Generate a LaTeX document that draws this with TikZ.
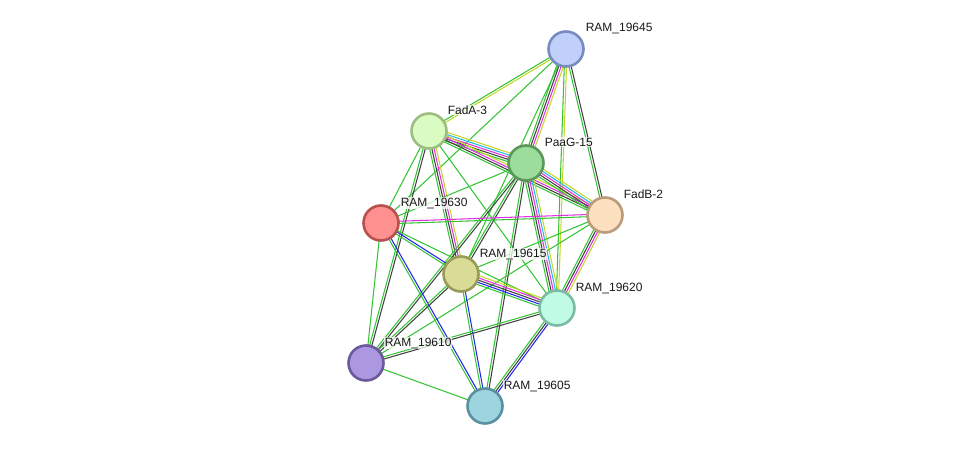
\documentclass[tikz,border=0pt]{standalone}
\usepackage{fontspec}
\setmainfont{Liberation Sans}
\usetikzlibrary{calc}
\pgfdeclarelayer{background}
\pgfsetlayers{background,main}
\definecolor{gn}{RGB}{52,196,52}
\definecolor{tm}{RGB}{196,214,40}
\definecolor{bk}{RGB}{64,64,64}
\definecolor{mg}{RGB}{224,48,224}
\definecolor{cy}{RGB}{40,184,230}
\definecolor{bl}{RGB}{36,36,240}
\tikzset{
  prot/.style={circle,draw,inner sep=0pt,minimum size=35pt,line width=2.6pt},
  lbl/.style={anchor=base west,inner sep=0.6pt,font=\fontsize{12pt}{14pt}\selectfont,text=black!90,fill=white,fill opacity=0.75,text opacity=1},
  lnk/.style={line width=1.05pt}
}
\newcommand\bundle[3]{%
  \gdef\bn{0}%
  \foreach \c in {#3}{\xdef\bn{\the\numexpr\bn+1\relax}}%
  \foreach \c [count=\i] in {#3}{%
    \pgfmathsetmacro\off{(\i-(\bn+1)/2)*2.2}%
    \draw[lnk,\c] ($(#1.center)!\off pt!90:(#2.center)$) -- ($(#2.center)!\off pt!-90:(#1.center)$);
  }%
}
\begin{document}
\begin{tikzpicture}[x=1pt,y=-1pt]
\useasboundingbox (0,0) rectangle (976,452);
\node[prot,fill={rgb,255:red,192;green,208;blue,250},draw={rgb,255:red,120;green,140;blue,192}] (A) at (566,49) {};
\node[prot,fill={rgb,255:red,218;green,252;blue,194},draw={rgb,255:red,156;green,190;blue,128}] (B) at (429,131) {};
\node[prot,fill={rgb,255:red,156;green,220;blue,156},draw={rgb,255:red,90;green,152;blue,90}] (C) at (526,163) {};
\node[prot,fill={rgb,255:red,253;green,224;blue,192},draw={rgb,255:red,184;green,156;blue,124}] (D) at (605,215) {};
\node[prot,fill={rgb,255:red,255;green,144;blue,144},draw={rgb,255:red,184;green,80;blue,80}] (E) at (381,223) {};
\node[prot,fill={rgb,255:red,216;green,220;blue,148},draw={rgb,255:red,154;green,154;blue,90}] (F) at (461,274) {};
\node[prot,fill={rgb,255:red,192;green,252;blue,228},draw={rgb,255:red,124;green,188;blue,164}] (G) at (557,308) {};
\node[prot,fill={rgb,255:red,172;green,152;blue,224},draw={rgb,255:red,106;green,90;blue,156}] (H) at (366,363) {};
\node[prot,fill={rgb,255:red,156;green,212;blue,224},draw={rgb,255:red,90;green,144;blue,160}] (I) at (485,406) {};

\begin{pgfonlayer}{background}
\bundle{A}{B}{gn,tm}
\bundle{A}{E}{gn}
\bundle{A}{C}{gn,bk,mg,tm}
\bundle{A}{F}{gn}
\bundle{A}{G}{gn,tm}
\bundle{A}{D}{gn,bk}
\bundle{B}{C}{gn,bk,mg,cy,tm}
\bundle{B}{D}{gn,bk,mg,tm}
\bundle{B}{F}{gn,bk,mg,tm}
\bundle{B}{H}{gn,bk}
\bundle{B}{E}{gn}
\bundle{B}{G}{gn}
\bundle{C}{D}{gn,bk,mg,cy,tm}
\bundle{C}{G}{gn,bk,mg,cy,tm}
\bundle{C}{F}{gn,bk}
\bundle{C}{E}{gn}
\bundle{C}{H}{gn,bk}
\bundle{C}{I}{gn,bk}
\bundle{D}{E}{mg,gn}
\bundle{D}{G}{gn,bk,mg,tm}
\bundle{D}{F}{gn}
\bundle{D}{H}{gn}
\bundle{E}{F}{gn,bl}
\bundle{E}{G}{gn}
\bundle{E}{I}{gn,bl}
\bundle{E}{H}{gn}
\bundle{F}{G}{gn,bl,bk,mg,tm}
\bundle{F}{I}{gn,bl}
\bundle{F}{H}{gn,bk}
\bundle{G}{I}{gn,bk,bl}
\bundle{G}{H}{gn,bk}
\bundle{H}{I}{gn}
\end{pgfonlayer}

\node[lbl] (lA) at (585,32) {RAM\_19645};
\node[lbl] (lB) at (447,114) {FadA-3};
\node[lbl] (lC) at (544,146) {PaaG-15};
\node[lbl] (lD) at (623,198) {FadB-2};
\node[lbl] (lE) at (400,206) {RAM\_19630};
\node[lbl] (lF) at (479,257) {RAM\_19615};
\node[lbl] (lG) at (575,291) {RAM\_19620};
\node[lbl] (lH) at (384,346) {RAM\_19610};
\node[lbl] (lI) at (503,389) {RAM\_19605};
\end{tikzpicture}
\end{document}
